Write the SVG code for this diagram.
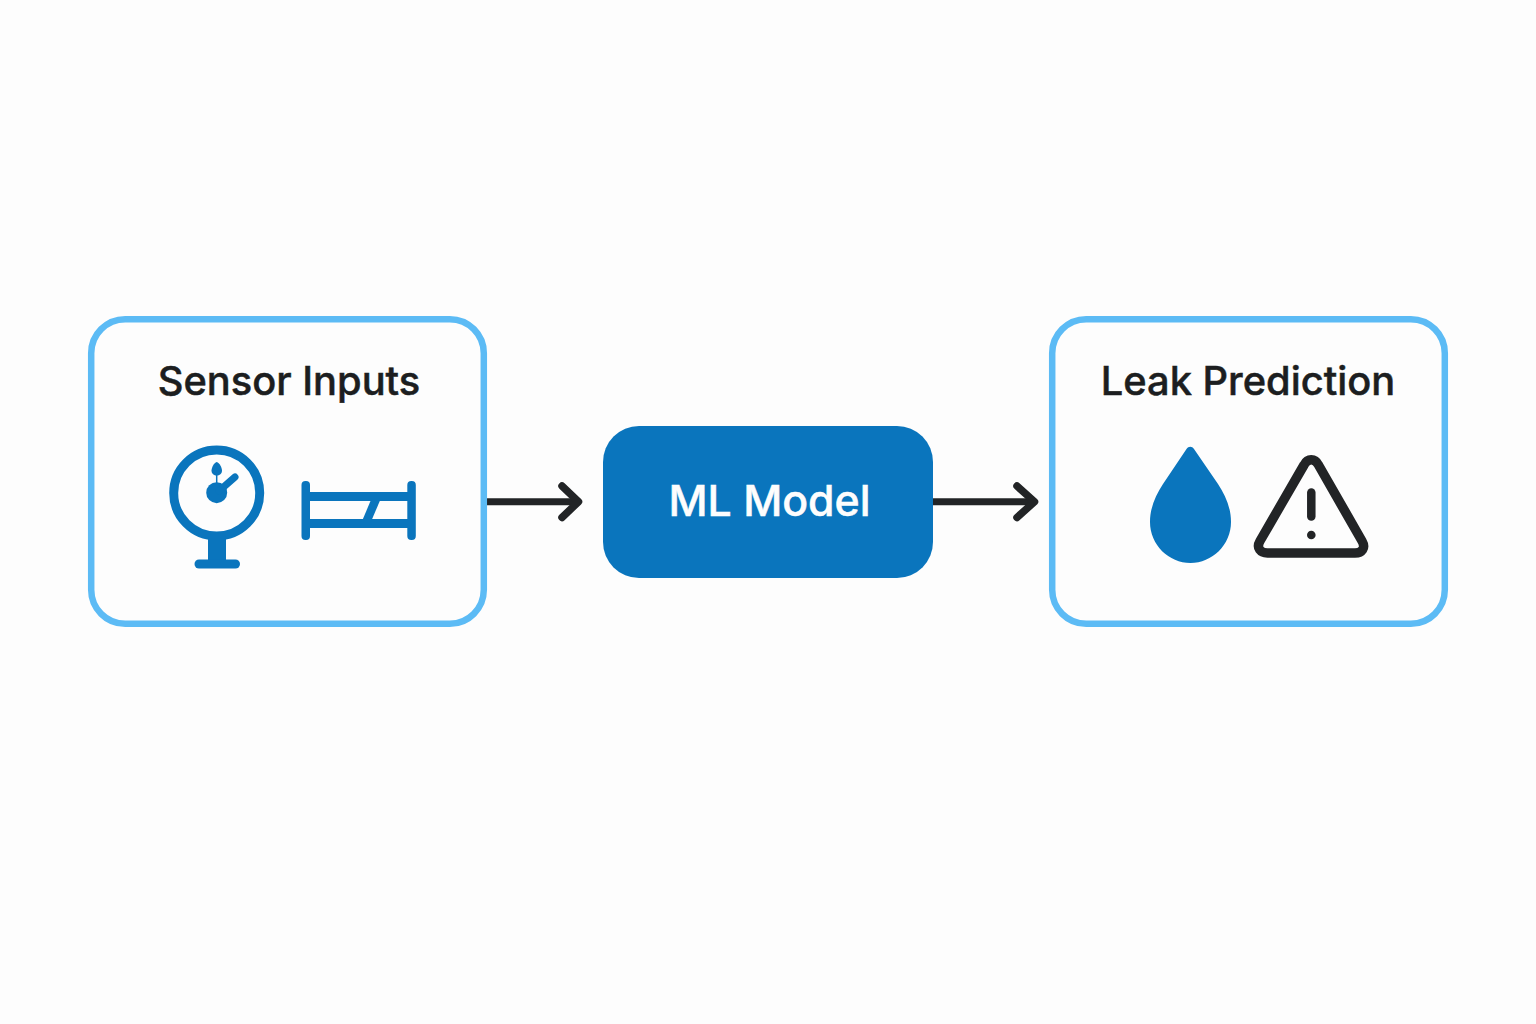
<svg xmlns="http://www.w3.org/2000/svg" width="1536" height="1024" viewBox="0 0 1536 1024">
<style>
.bg{fill:#fdfdfd}
.card{fill:#fdfdfd;stroke:#5cbbf5;stroke-width:6.500}
.title{font-family:Inter,"Liberation Sans",sans-serif;font-size:39.800px;font-weight:500;text-anchor:middle;fill:#1c1e20;stroke:#1c1e20;stroke-width:.5}
.model{font-size:42.800px;fill:#fdfdfd;stroke:#fdfdfd}
.blue{fill:#0a75bd}
.line{fill:none;stroke:#0a75bd;stroke-linecap:round}
.dark{fill:none;stroke:#222426;stroke-linecap:round;stroke-linejoin:round}
.conn{fill:none;stroke:#222426;stroke-width:7;stroke-linejoin:round}
.head{fill:none;stroke:#222426;stroke-width:7.500;stroke-linecap:round;stroke-linejoin:round}
</style>
<rect class="bg" width="1536" height="1024"/>
<g id="connectors">
<path class="conn" d="M487 501.700H578"/>
<path class="head" d="M562 486L578.500 501.700L562 517.500"/>
<path class="conn" d="M933 501.700H1034"/>
<path class="head" d="M1017 486L1034.500 501.700L1017 517.500"/>
</g>
<g id="sensor-inputs">
<rect class="card" x="91.200" y="319.200" width="392.600" height="304.600" rx="34"/>
<text class="title" x="289" y="395">Sensor Inputs</text>
<g id="gauge">
<circle cx="216.700" cy="493" r="43" fill="none" stroke="#0a75bd" stroke-width="9"/>
<circle class="blue" cx="216.700" cy="492.700" r="10.500"/>
<path class="line" stroke-width="7" d="M219 491L235 477"/>
<path class="line" stroke-width="1.500" style="stroke-linecap:butt" d="M216.700 474V484"/>
<path class="blue" d="M216.700 462C219.500 462.500 222 468 222 470.500C222 473.800 219.500 475.500 216.700 475.500C214 475.500 211.500 473.800 211.500 470.500C211.500 468 214 462.500 216.700 462Z"/>
<rect class="blue" x="208" y="538" width="18" height="24"/>
<rect class="blue" x="194.500" y="559.500" width="45.500" height="9" rx="4.500"/>
</g>
<g id="pipe">
<rect class="blue" x="301.500" y="481" width="8.500" height="59" rx="4"/>
<rect class="blue" x="407.300" y="481" width="8.500" height="59" rx="4"/>
<rect class="blue" x="305" y="492" width="106" height="9"/>
<rect class="blue" x="305" y="519" width="106" height="9"/>
<path class="blue" d="M362.500 520L370.700 500.500H380L371.700 520Z"/>
</g>
</g>
<g id="ml-model">
<rect class="blue" x="603" y="426" width="330" height="152" rx="36"/>
<text class="title model" x="769.500" y="516">ML Model</text>
</g>
<g id="leak-prediction">
<rect class="card" x="1052.200" y="319.200" width="392.600" height="304.600" rx="34"/>
<text class="title" x="1248" y="395">Leak Prediction</text>
<path id="drop" class="blue" d="M1186.500 449C1188.500 446 1192 446 1194 449L1218 484C1225 495 1231 507 1231 522C1231 545 1212 563 1190.500 563C1169 563 1150 545 1150 522C1150 507 1156 495 1163 484Z"/>
<g id="warning">
<path class="dark" stroke-width="9.500" d="M1304 465C1307.500 458 1315 458 1318.500 465L1362 541C1366 548 1362 553 1355 553H1267.500C1260.500 553 1256 548 1260 541Z"/>
<path class="dark" stroke-width="8.500" d="M1311.300 492.500V516.500"/>
<circle cx="1311.300" cy="535" r="4.300" fill="#222426"/>
</g>
</g>
</svg>
